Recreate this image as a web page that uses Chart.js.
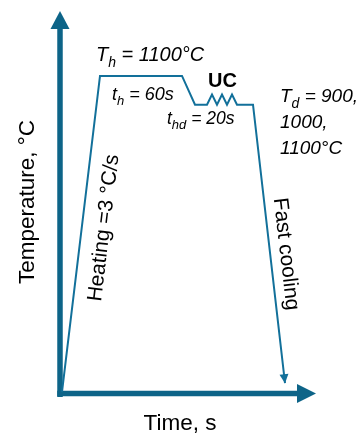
<!DOCTYPE html>
<html>
<head>
<meta charset="utf-8">
<script src="https://cdn.jsdelivr.net/npm/chart.js@4"></script>
<style>
  html, body { margin: 0; padding: 0; background: #ffffff; }
  #wrap { width: 358px; height: 439px; }
</style>
</head>
<body>
<div id="wrap"><canvas id="c" width="358" height="439"></canvas></div>
<script>
// Schematic heat-treatment profile (time in schematic units, temperature in °C)
const profileTime = [0, 38, 120, 133, 145, 150, 155, 160, 165, 170, 175, 191, 223];
const profileTemp = [0, 1100, 1100, 1000, 1000, 1035, 1000, 1035, 1000, 1035, 1000, 1000, 30];

// Axis ranges (schematic)
const timeRange = [-2, 254];
const tempRange = [-4, 1326];

// Text labels
const labelTh = ['T', 'h', ' = 1100°C'];
const labelTimeHold = ['t', 'h', ' = 60s'];
const labelUC = 'UC';
const labelTimeDwell = ['t', 'hd', ' = 20s'];
const labelTd = [['T', 'd', ' = 900,'], ['', '', '1000,'], ['', '', '1100°C']];
const labelHeating = 'Heating =3 °C/s';
const labelCooling = 'Fast cooling';
const axisTitleX = 'Time, s';
const axisTitleY = 'Temperature, °C';

const AXIS_COLOR = '#0d6488';
const LINE_COLOR = '#12709a';
const FONT = '"Liberation Sans", Arial, sans-serif';

function subText(ctx, parts, x, y, size, style) {
  const [main, sub, rest] = parts;
  ctx.textAlign = 'left';
  ctx.textBaseline = 'alphabetic';
  ctx.font = style + ' ' + size + 'px ' + FONT;
  ctx.fillText(main, x, y);
  x += ctx.measureText(main).width;
  if (sub) {
    ctx.font = style + ' ' + Math.round(size * 0.72) + 'px ' + FONT;
    ctx.fillText(sub, x, y + size * 0.3);
    x += ctx.measureText(sub).width;
  }
  ctx.font = style + ' ' + size + 'px ' + FONT;
  ctx.fillText(rest, x, y);
}

function arrowHead(ctx, tipX, tipY, dx, dy, len, halfW) {
  const n = Math.hypot(dx, dy);
  const ux = dx / n, uy = dy / n;
  const bx = tipX - ux * len, by = tipY - uy * len;
  ctx.beginPath();
  ctx.moveTo(tipX, tipY);
  ctx.lineTo(bx - uy * halfW, by + ux * halfW);
  ctx.lineTo(bx + uy * halfW, by - ux * halfW);
  ctx.closePath();
  ctx.fill();
}

const decorPlugin = {
  id: 'decor',
  beforeDatasetsDraw(chart) {
    const ctx = chart.ctx;
    const xs = chart.scales.x, ys = chart.scales.y;
    const ox = xs.getPixelForValue(timeRange[0]);
    const oy = ys.getPixelForValue(tempRange[0]) + 0.5;
    const topY = ys.getPixelForValue(tempRange[1]);
    const rightX = xs.getPixelForValue(timeRange[1]);
    ctx.save();
    ctx.strokeStyle = AXIS_COLOR;
    ctx.fillStyle = AXIS_COLOR;
    ctx.lineWidth = 5.5;
    // y axis
    ctx.beginPath();
    ctx.moveTo(ox, oy + 3.5);
    ctx.lineTo(ox, topY + 16);
    ctx.stroke();
    arrowHead(ctx, ox, topY, 0, -1, 18, 9.5);
    // x axis
    ctx.beginPath();
    ctx.moveTo(ox - 2.75, oy);
    ctx.lineTo(rightX - 16, oy);
    ctx.stroke();
    arrowHead(ctx, rightX, oy, 1, 0, 19, 9.5);
    ctx.restore();
  },
  afterDatasetsDraw(chart) {
    const ctx = chart.ctx;
    const meta = chart.getDatasetMeta(0);
    const pts = meta.data;
    const n = pts.length;
    ctx.save();
    ctx.fillStyle = LINE_COLOR;
    // cooling arrow head
    const a = pts[n - 2], b = pts[n - 1];
    arrowHead(ctx, b.x, b.y, b.x - a.x, b.y - a.y, 9, 4.5);

    ctx.fillStyle = '#000000';
    subText(ctx, labelTh, 96, 61, 20, 'italic');
    subText(ctx, labelTimeHold, 112, 100, 18, 'italic');
    ctx.font = 'bold 20px ' + FONT;
    ctx.textAlign = 'left';
    ctx.fillText(labelUC, 208, 87);
    subText(ctx, labelTimeDwell, 167, 124, 17.5, 'italic');
    const tdY = [102, 128, 154];
    labelTd.forEach((p, i) => subText(ctx, p, 280, tdY[i], 19, 'italic'));

    // axis titles
    ctx.font = '22.5px ' + FONT;
    ctx.textAlign = 'center';
    ctx.textBaseline = 'middle';
    ctx.fillText(axisTitleX, 180, 424);
    ctx.save();
    ctx.translate(28, 202);
    ctx.rotate(-Math.PI / 2);
    ctx.fillText(axisTitleY, 0, 0);
    ctx.restore();

    // heating annotation, along the heating segment
    const p0 = pts[0], p1 = pts[1];
    ctx.save();
    ctx.translate(104, 228);
    ctx.rotate(Math.atan2(p1.y - p0.y, p1.x - p0.x));
    ctx.font = '21px ' + FONT;
    ctx.fillText(labelHeating, 0, 0);
    ctx.restore();

    // cooling annotation, along the cooling segment
    ctx.save();
    ctx.translate(286, 254);
    ctx.rotate(Math.atan2(b.y - a.y, b.x - a.x));
    ctx.font = '21px ' + FONT;
    ctx.fillText(labelCooling, 0, 0);
    ctx.restore();
    ctx.restore();
  }
};

new Chart(document.getElementById('c'), {
  type: 'line',
  data: {
    datasets: [{
      data: profileTime.map((t, i) => ({ x: t, y: profileTemp[i] })),
      borderColor: LINE_COLOR,
      borderWidth: 2,
      pointRadius: 0,
      tension: 0,
      fill: false
    }]
  },
  options: {
    responsive: false,
    animation: false,
    layout: { padding: { left: 60, right: 42, top: 11, bottom: 46 } },
    plugins: { legend: { display: false }, tooltip: { enabled: false } },
    scales: {
      x: { type: 'linear', min: timeRange[0], max: timeRange[1], display: false },
      y: { type: 'linear', min: tempRange[0], max: tempRange[1], display: false }
    }
  },
  plugins: [decorPlugin]
});
</script>
</body>
</html>
